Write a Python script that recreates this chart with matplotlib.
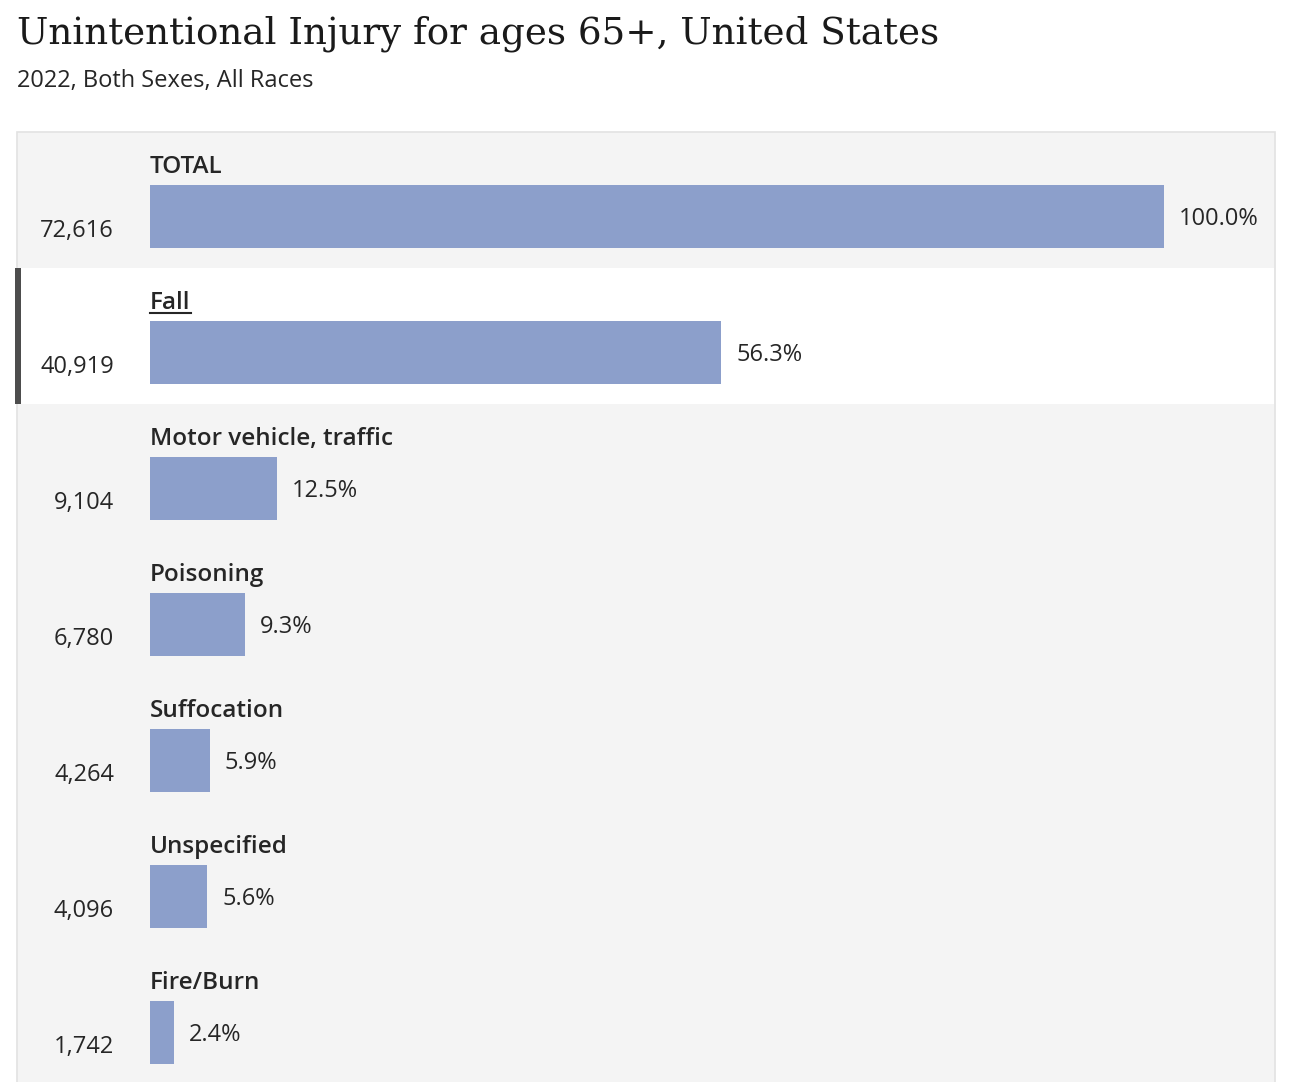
import matplotlib
matplotlib.use('Agg')
import matplotlib.pyplot as plt
from matplotlib.patches import Rectangle
from matplotlib.transforms import blended_transform_factory, offset_copy

categories = ["TOTAL", "Fall", "Motor vehicle, traffic", "Poisoning",
              "Suffocation", "Unspecified", "Fire/Burn"]
deaths = [72616, 40919, 9104, 6780, 4264, 4096, 1742]
percents = [100.0, 56.3, 12.5, 9.3, 5.9, 5.6, 2.4]
highlight = "Fall"

W, H = 1292, 1082
BAR = "#8c9fcb"
TXT = "#262626"
body = ["Open Sans", "DejaVu Sans"]

fig = plt.figure(figsize=(W / 100, H / 100), dpi=100)
fig.patch.set_facecolor("white")


def fx(x):
    return x / W


def fy(y):
    return 1 - y / H


# panel background
row_h = 136
top = 132
fig.patches.append(Rectangle((fx(17), fy(H + 5)), fx(1275 - 17), (H + 5 - top) / H,
                             transform=fig.transFigure, facecolor="#f4f4f4",
                             edgecolor="#e2e2e2", lw=1.2, zorder=-3))

hi = categories.index(highlight)
y0 = top + hi * row_h
fig.patches.append(Rectangle((fx(18), fy(y0 + row_h)), fx(1274 - 18), row_h / H,
                             transform=fig.transFigure, facecolor="white",
                             edgecolor="none", zorder=-2))
fig.patches.append(Rectangle((fx(15), fy(y0 + row_h)), fx(6), row_h / H,
                             transform=fig.transFigure, facecolor="#4d4d4d",
                             edgecolor="none", zorder=-1))

fig.text(fx(17), fy(44), "Unintentional Injury for ages 65+, United States",
         family=["DejaVu Serif"], fontsize=26.8, color="#1a1a1a", va="baseline")
fig.text(fx(17), fy(87), "2022, Both Sexes, All Races",
         family=body, fontsize=17, color=TXT, va="baseline")

n = len(categories)
ax = fig.add_axes([fx(150), fy(top + n * row_h), fx(1164 - 150), n * row_h / H])
ax.set_zorder(5)
ax.set_xlim(0, deaths[0])
ax.set_ylim(n, 0)
ax.axis("off")
ax.patch.set_alpha(0)

ys = [i + 84.5 / row_h for i in range(n)]
ax.barh(ys, deaths, height=63 / row_h, color=BAR, zorder=3)

num_tr = blended_transform_factory(fig.transFigure, ax.transData)
pct_tr = offset_copy(ax.transData, fig=fig, x=15, y=0, units="dots")

labels = []
for i, (cat, d, p) in enumerate(zip(categories, deaths, percents)):
    t = ax.text(0, i + 41 / row_h, cat, family=body, fontsize=17.5,
                fontweight="semibold", color=TXT, va="baseline", ha="left",
                clip_on=False)
    labels.append(t)
    ax.text(fx(114), i + 105 / row_h, f"{d:,}", family=body, fontsize=17,
            color=TXT, va="baseline", ha="right", transform=num_tr, clip_on=False)
    ax.text(d, i + 93 / row_h, f"{p:.1f}%", family=body, fontsize=17,
            color=TXT, va="baseline", ha="left", transform=pct_tr, clip_on=False)

# underline the highlighted label
fig.canvas.draw()
bb = labels[hi].get_window_extent()
uy = y0 + 41 + 4
fig.add_artist(plt.Line2D([bb.x0 / W, bb.x1 / W], [fy(uy), fy(uy)],
                          transform=fig.transFigure, color=TXT, lw=1.5, zorder=6))

fig.savefig("out.png", dpi=100)
